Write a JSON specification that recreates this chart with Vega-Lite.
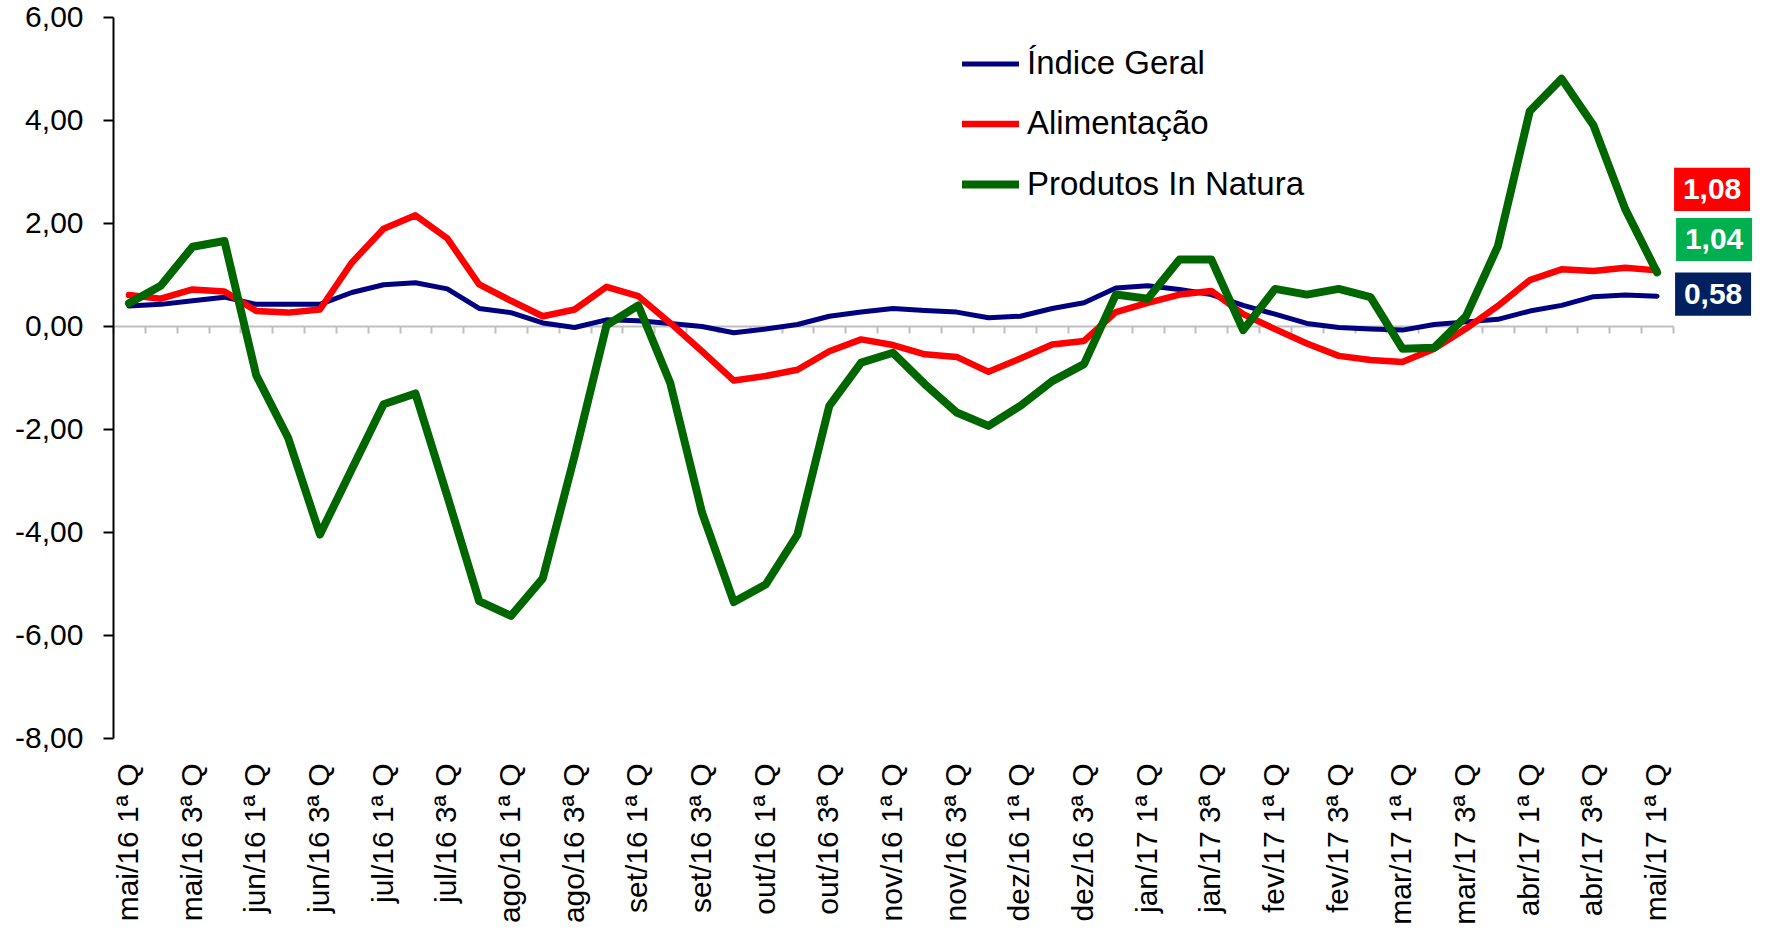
{
  "$schema": "https://vega.github.io/schema/vega-lite/v6.json",
  "width": 1560,
  "height": 721,
  "autosize": {"type": "none"},
  "padding": {"left": 113, "top": 17, "right": 93, "bottom": 192},
  "background": "white",
  "config": {
    "font": "Liberation Sans",
    "view": {"stroke": null},
    "locale": {"number": {"decimal": ",", "thousands": ".", "grouping": [3], "currency": ["R$", ""], "minus": "-"}}
  },
  "data": {"values": [
    {"q":"mai/16 1ª Q","s":"Índice Geral","v":0.39},
    {"q":"mai/16 2ª Q","s":"Índice Geral","v":0.42},
    {"q":"mai/16 3ª Q","s":"Índice Geral","v":0.49},
    {"q":"mai/16 4ª Q","s":"Índice Geral","v":0.56},
    {"q":"jun/16 1ª Q","s":"Índice Geral","v":0.42},
    {"q":"jun/16 2ª Q","s":"Índice Geral","v":0.42},
    {"q":"jun/16 3ª Q","s":"Índice Geral","v":0.42},
    {"q":"jun/16 4ª Q","s":"Índice Geral","v":0.65},
    {"q":"jul/16 1ª Q","s":"Índice Geral","v":0.80},
    {"q":"jul/16 2ª Q","s":"Índice Geral","v":0.84},
    {"q":"jul/16 3ª Q","s":"Índice Geral","v":0.72},
    {"q":"jul/16 4ª Q","s":"Índice Geral","v":0.34},
    {"q":"ago/16 1ª Q","s":"Índice Geral","v":0.26},
    {"q":"ago/16 2ª Q","s":"Índice Geral","v":0.06},
    {"q":"ago/16 3ª Q","s":"Índice Geral","v":-0.03},
    {"q":"ago/16 4ª Q","s":"Índice Geral","v":0.12},
    {"q":"set/16 1ª Q","s":"Índice Geral","v":0.10},
    {"q":"set/16 2ª Q","s":"Índice Geral","v":0.05},
    {"q":"set/16 3ª Q","s":"Índice Geral","v":-0.01},
    {"q":"set/16 4ª Q","s":"Índice Geral","v":-0.13},
    {"q":"out/16 1ª Q","s":"Índice Geral","v":-0.06},
    {"q":"out/16 2ª Q","s":"Índice Geral","v":0.03},
    {"q":"out/16 3ª Q","s":"Índice Geral","v":0.19},
    {"q":"out/16 4ª Q","s":"Índice Geral","v":0.27},
    {"q":"nov/16 1ª Q","s":"Índice Geral","v":0.34},
    {"q":"nov/16 2ª Q","s":"Índice Geral","v":0.30},
    {"q":"nov/16 3ª Q","s":"Índice Geral","v":0.27},
    {"q":"nov/16 4ª Q","s":"Índice Geral","v":0.16},
    {"q":"dez/16 1ª Q","s":"Índice Geral","v":0.19},
    {"q":"dez/16 2ª Q","s":"Índice Geral","v":0.34},
    {"q":"dez/16 3ª Q","s":"Índice Geral","v":0.45},
    {"q":"dez/16 4ª Q","s":"Índice Geral","v":0.74},
    {"q":"jan/17 1ª Q","s":"Índice Geral","v":0.78},
    {"q":"jan/17 2ª Q","s":"Índice Geral","v":0.71},
    {"q":"jan/17 3ª Q","s":"Índice Geral","v":0.61},
    {"q":"jan/17 4ª Q","s":"Índice Geral","v":0.40},
    {"q":"fev/17 1ª Q","s":"Índice Geral","v":0.23},
    {"q":"fev/17 2ª Q","s":"Índice Geral","v":0.05},
    {"q":"fev/17 3ª Q","s":"Índice Geral","v":-0.03},
    {"q":"fev/17 4ª Q","s":"Índice Geral","v":-0.06},
    {"q":"mar/17 1ª Q","s":"Índice Geral","v":-0.08},
    {"q":"mar/17 2ª Q","s":"Índice Geral","v":0.03},
    {"q":"mar/17 3ª Q","s":"Índice Geral","v":0.08},
    {"q":"mar/17 4ª Q","s":"Índice Geral","v":0.13},
    {"q":"abr/17 1ª Q","s":"Índice Geral","v":0.29},
    {"q":"abr/17 2ª Q","s":"Índice Geral","v":0.40},
    {"q":"abr/17 3ª Q","s":"Índice Geral","v":0.57},
    {"q":"abr/17 4ª Q","s":"Índice Geral","v":0.60},
    {"q":"mai/17 1ª Q","s":"Índice Geral","v":0.58},
    {"q":"mai/16 1ª Q","s":"Alimentação","v":0.60},
    {"q":"mai/16 2ª Q","s":"Alimentação","v":0.53},
    {"q":"mai/16 3ª Q","s":"Alimentação","v":0.71},
    {"q":"mai/16 4ª Q","s":"Alimentação","v":0.67},
    {"q":"jun/16 1ª Q","s":"Alimentação","v":0.29},
    {"q":"jun/16 2ª Q","s":"Alimentação","v":0.26},
    {"q":"jun/16 3ª Q","s":"Alimentação","v":0.32},
    {"q":"jun/16 4ª Q","s":"Alimentação","v":1.23},
    {"q":"jul/16 1ª Q","s":"Alimentação","v":1.89},
    {"q":"jul/16 2ª Q","s":"Alimentação","v":2.15},
    {"q":"jul/16 3ª Q","s":"Alimentação","v":1.70},
    {"q":"jul/16 4ª Q","s":"Alimentação","v":0.81},
    {"q":"ago/16 1ª Q","s":"Alimentação","v":0.49},
    {"q":"ago/16 2ª Q","s":"Alimentação","v":0.19},
    {"q":"ago/16 3ª Q","s":"Alimentação","v":0.32},
    {"q":"ago/16 4ª Q","s":"Alimentação","v":0.76},
    {"q":"set/16 1ª Q","s":"Alimentação","v":0.58},
    {"q":"set/16 2ª Q","s":"Alimentação","v":0.06},
    {"q":"set/16 3ª Q","s":"Alimentação","v":-0.49},
    {"q":"set/16 4ª Q","s":"Alimentação","v":-1.06},
    {"q":"out/16 1ª Q","s":"Alimentação","v":-0.97},
    {"q":"out/16 2ª Q","s":"Alimentação","v":-0.85},
    {"q":"out/16 3ª Q","s":"Alimentação","v":-0.49},
    {"q":"out/16 4ª Q","s":"Alimentação","v":-0.26},
    {"q":"nov/16 1ª Q","s":"Alimentação","v":-0.37},
    {"q":"nov/16 2ª Q","s":"Alimentação","v":-0.55},
    {"q":"nov/16 3ª Q","s":"Alimentação","v":-0.60},
    {"q":"nov/16 4ª Q","s":"Alimentação","v":-0.89},
    {"q":"dez/16 1ª Q","s":"Alimentação","v":-0.63},
    {"q":"dez/16 2ª Q","s":"Alimentação","v":-0.36},
    {"q":"dez/16 3ª Q","s":"Alimentação","v":-0.29},
    {"q":"dez/16 4ª Q","s":"Alimentação","v":0.27},
    {"q":"jan/17 1ª Q","s":"Alimentação","v":0.45},
    {"q":"jan/17 2ª Q","s":"Alimentação","v":0.61},
    {"q":"jan/17 3ª Q","s":"Alimentação","v":0.68},
    {"q":"jan/17 4ª Q","s":"Alimentação","v":0.23},
    {"q":"fev/17 1ª Q","s":"Alimentação","v":-0.06},
    {"q":"fev/17 2ª Q","s":"Alimentação","v":-0.34},
    {"q":"fev/17 3ª Q","s":"Alimentação","v":-0.58},
    {"q":"fev/17 4ª Q","s":"Alimentação","v":-0.66},
    {"q":"mar/17 1ª Q","s":"Alimentação","v":-0.70},
    {"q":"mar/17 2ª Q","s":"Alimentação","v":-0.44},
    {"q":"mar/17 3ª Q","s":"Alimentação","v":-0.05},
    {"q":"mar/17 4ª Q","s":"Alimentação","v":0.39},
    {"q":"abr/17 1ª Q","s":"Alimentação","v":0.89},
    {"q":"abr/17 2ª Q","s":"Alimentação","v":1.10},
    {"q":"abr/17 3ª Q","s":"Alimentação","v":1.07},
    {"q":"abr/17 4ª Q","s":"Alimentação","v":1.13},
    {"q":"mai/17 1ª Q","s":"Alimentação","v":1.08},
    {"q":"mai/16 1ª Q","s":"Produtos In Natura","v":0.44},
    {"q":"mai/16 2ª Q","s":"Produtos In Natura","v":0.78},
    {"q":"mai/16 3ª Q","s":"Produtos In Natura","v":1.54},
    {"q":"mai/16 4ª Q","s":"Produtos In Natura","v":1.65},
    {"q":"jun/16 1ª Q","s":"Produtos In Natura","v":-0.96},
    {"q":"jun/16 2ª Q","s":"Produtos In Natura","v":-2.17},
    {"q":"jun/16 3ª Q","s":"Produtos In Natura","v":-4.05},
    {"q":"jun/16 4ª Q","s":"Produtos In Natura","v":-2.78},
    {"q":"jul/16 1ª Q","s":"Produtos In Natura","v":-1.52},
    {"q":"jul/16 2ª Q","s":"Produtos In Natura","v":-1.31},
    {"q":"jul/16 3ª Q","s":"Produtos In Natura","v":-3.30},
    {"q":"jul/16 4ª Q","s":"Produtos In Natura","v":-5.34},
    {"q":"ago/16 1ª Q","s":"Produtos In Natura","v":-5.63},
    {"q":"ago/16 2ª Q","s":"Produtos In Natura","v":-4.90},
    {"q":"ago/16 3ª Q","s":"Produtos In Natura","v":-2.52},
    {"q":"ago/16 4ª Q","s":"Produtos In Natura","v":0.01},
    {"q":"set/16 1ª Q","s":"Produtos In Natura","v":0.40},
    {"q":"set/16 2ª Q","s":"Produtos In Natura","v":-1.10},
    {"q":"set/16 3ª Q","s":"Produtos In Natura","v":-3.62},
    {"q":"set/16 4ª Q","s":"Produtos In Natura","v":-5.36},
    {"q":"out/16 1ª Q","s":"Produtos In Natura","v":-5.02},
    {"q":"out/16 2ª Q","s":"Produtos In Natura","v":-4.05},
    {"q":"out/16 3ª Q","s":"Produtos In Natura","v":-1.55},
    {"q":"out/16 4ª Q","s":"Produtos In Natura","v":-0.71},
    {"q":"nov/16 1ª Q","s":"Produtos In Natura","v":-0.52},
    {"q":"nov/16 2ª Q","s":"Produtos In Natura","v":-1.13},
    {"q":"nov/16 3ª Q","s":"Produtos In Natura","v":-1.68},
    {"q":"nov/16 4ª Q","s":"Produtos In Natura","v":-1.94},
    {"q":"dez/16 1ª Q","s":"Produtos In Natura","v":-1.55},
    {"q":"dez/16 2ª Q","s":"Produtos In Natura","v":-1.07},
    {"q":"dez/16 3ª Q","s":"Produtos In Natura","v":-0.74},
    {"q":"dez/16 4ª Q","s":"Produtos In Natura","v":0.61},
    {"q":"jan/17 1ª Q","s":"Produtos In Natura","v":0.53},
    {"q":"jan/17 2ª Q","s":"Produtos In Natura","v":1.29},
    {"q":"jan/17 3ª Q","s":"Produtos In Natura","v":1.29},
    {"q":"jan/17 4ª Q","s":"Produtos In Natura","v":-0.08},
    {"q":"fev/17 1ª Q","s":"Produtos In Natura","v":0.72},
    {"q":"fev/17 2ª Q","s":"Produtos In Natura","v":0.61},
    {"q":"fev/17 3ª Q","s":"Produtos In Natura","v":0.72},
    {"q":"fev/17 4ª Q","s":"Produtos In Natura","v":0.56},
    {"q":"mar/17 1ª Q","s":"Produtos In Natura","v":-0.44},
    {"q":"mar/17 2ª Q","s":"Produtos In Natura","v":-0.42},
    {"q":"mar/17 3ª Q","s":"Produtos In Natura","v":0.19},
    {"q":"mar/17 4ª Q","s":"Produtos In Natura","v":1.55},
    {"q":"abr/17 1ª Q","s":"Produtos In Natura","v":4.17},
    {"q":"abr/17 2ª Q","s":"Produtos In Natura","v":4.80},
    {"q":"abr/17 3ª Q","s":"Produtos In Natura","v":3.90},
    {"q":"abr/17 4ª Q","s":"Produtos In Natura","v":2.27},
    {"q":"mai/17 1ª Q","s":"Produtos In Natura","v":1.04}
  ]},
  "resolve": {"axis": {"x": "independent"}},
  "layer": [
    {
      "mark": {"type": "line", "strokeCap": "round", "strokeJoin": "round"},
      "encoding": {
        "x": {"field": "q", "type": "ordinal", "sort": null,
              "scale": {"type": "band", "paddingInner": 0, "paddingOuter": 0},
              "axis": {"orient": "bottom", "title": null, "domain": false, "ticks": false,
                       "labelAngle": -90, "labelFontSize": 30, "labelColor": "black", "labelPadding": 25,
                       "labelExpr": "indexof(datum.label, '2ª') >= 0 || indexof(datum.label, '4ª') >= 0 ? '' : datum.label"}},
        "y": {"field": "v", "type": "quantitative",
              "scale": {"domain": [-8, 6], "nice": false, "zero": false},
              "axis": {"title": null, "grid": false, "values": [-8, -6, -4, -2, 0, 2, 4, 6], "format": ".2f",
                       "labelFontSize": 30, "labelColor": "black", "domainColor": "black", "domainWidth": 2,
                       "tickColor": "black", "tickWidth": 2, "tickSize": 10, "labelPadding": 20}},
        "color": {"field": "s", "type": "nominal",
                  "scale": {"domain": ["Índice Geral", "Alimentação", "Produtos In Natura"], "range": ["#000080", "#FF0000", "#006600"]},
                  "legend": {"title": null, "orient": "none", "legendX": 845, "legendY": 16, "padding": 0,
                             "symbolType": "stroke", "symbolSize": 3249, "symbolStrokeWidth": 7, "labelFontSize": 33,
                             "labelColor": "black", "labelOffset": 4, "rowPadding": 11, "labelLimit": 0}},
        "strokeWidth": {"field": "s", "type": "nominal",
                        "scale": {"domain": ["Índice Geral", "Alimentação", "Produtos In Natura"], "range": [5, 8, 8]},
                        "legend": null}
      }
    },
    {
      "transform": [{"filter": "datum.q == 'mai/17 1ª Q' && datum.s == 'Alimentação'"}],
      "layer": [
        {"mark": {"type": "point", "shape": "M-1,-0.566L1,-0.566L1,0.566L-1,0.566Z", "filled": true, "size": 5776, "opacity": 1, "color": "#FF0000", "xOffset": 55, "yOffset": -81}},
        {"mark": {"type": "text", "color": "white", "fontWeight": "bold", "fontSize": 30, "align": "center", "baseline": "middle", "dx": 55, "dy": -80},
         "encoding": {"text": {"field": "v", "type": "quantitative", "format": ".2f"}}}
      ],
      "encoding": {
        "x": {"field": "q", "type": "ordinal", "sort": null,
              "axis": {"orient": "bottom", "offset": -412, "title": null, "labels": false, "domainColor": "#BFBFBF", "domainWidth": 2,
                       "tickColor": "#BFBFBF", "tickWidth": 2, "tickSize": 7, "tickBand": "extent"}},
        "y": {"field": "v", "type": "quantitative"}
      }
    },
    {
      "transform": [{"filter": "datum.q == 'mai/17 1ª Q' && datum.s == 'Produtos In Natura'"}],
      "layer": [
        {"mark": {"type": "point", "shape": "M-1,-0.566L1,-0.566L1,0.566L-1,0.566Z", "filled": true, "size": 5776, "opacity": 1, "color": "#00B050", "xOffset": 57, "yOffset": -33}},
        {"mark": {"type": "text", "color": "white", "fontWeight": "bold", "fontSize": 30, "align": "center", "baseline": "middle", "dx": 57, "dy": -32},
         "encoding": {"text": {"field": "v", "type": "quantitative", "format": ".2f"}}}
      ],
      "encoding": {
        "x": {"field": "q", "type": "ordinal", "sort": null, "axis": null},
        "y": {"field": "v", "type": "quantitative"}
      }
    },
    {
      "transform": [{"filter": "datum.q == 'mai/17 1ª Q' && datum.s == 'Índice Geral'"}],
      "layer": [
        {"mark": {"type": "point", "shape": "M-1,-0.566L1,-0.566L1,0.566L-1,0.566Z", "filled": true, "size": 5776, "opacity": 1, "color": "#002060", "xOffset": 56, "yOffset": -2}},
        {"mark": {"type": "text", "color": "white", "fontWeight": "bold", "fontSize": 30, "align": "center", "baseline": "middle", "dx": 56, "dy": -1},
         "encoding": {"text": {"field": "v", "type": "quantitative", "format": ".2f"}}}
      ],
      "encoding": {
        "x": {"field": "q", "type": "ordinal", "sort": null, "axis": null},
        "y": {"field": "v", "type": "quantitative"}
      }
    }
  ]
}
